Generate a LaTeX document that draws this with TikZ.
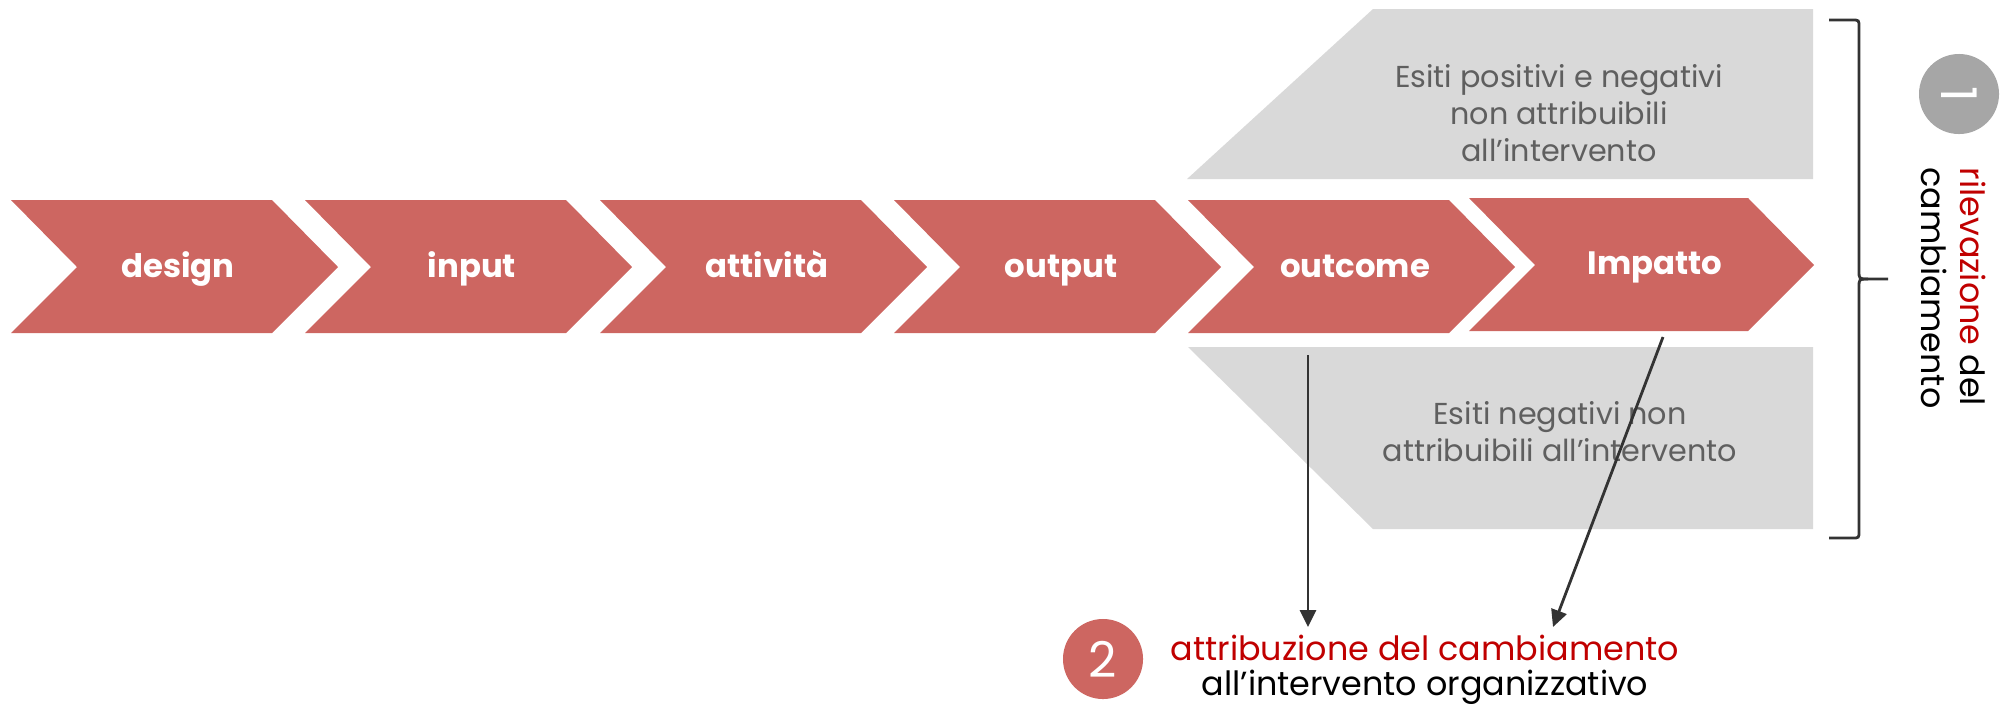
\documentclass[tikz,border=0pt]{standalone}
\usepackage{fontspec}
\setmainfont{Poppins}
\usetikzlibrary{arrows.meta}

\definecolor{fase}{RGB}{205,102,97}
\definecolor{esito}{RGB}{217,217,217}
\definecolor{testoesito}{RGB}{95,95,95}
\definecolor{rosso}{RGB}{192,0,0}
\definecolor{grigio}{RGB}{166,166,166}
\definecolor{linea}{RGB}{51,51,51}

\tikzset{
	freccia/.style={draw=linea, line width=0.8pt, -{Triangle[width=0.16cm, length=0.17cm]}},
	graffa/.style={draw=linea, line width=0.8pt},
	etichetta/.style={text=white, font=\bfseries\fontsize{9.2}{11}\selectfont, anchor=base, inner sep=0pt},
	esitotesto/.style={text=testoesito, align=center, font=\fontsize{8.6}{10.5}\selectfont},
	numero/.style={circle, minimum size=0.8cm, inner sep=0pt, text=white, font=\fontsize{14}{16}\selectfont},
	nota/.style={anchor=base, inner sep=0pt, font=\fontsize{9.5}{11}\selectfont}
}

\begin{document}
\begin{tikzpicture}[x=0.01cm, y=-0.01cm]
	\useasboundingbox (0, 0) rectangle (2003, 705);
	\fill[esito] (1187, 179) -- (1373, 9) -- (1813, 9) -- (1813, 179) -- cycle;
	\fill[esito] (1188, 347) -- (1813, 347) -- (1813, 529) -- (1373, 529) -- cycle;
	\foreach \x/\nome/\testo in {11/design/design, 305/input/input, 600/attivita/attività, 894/output/output, 1188/outcome/outcome} {
		\fill[fase] (\x, 200) -- (\x + 261, 200) -- (\x + 327, 267) -- (\x + 261, 333) -- (\x, 333) -- (\x + 66, 267) -- cycle;
		\node[etichetta] (\nome) at (\x + 167, 277) {\testo};
	}
	\fill[fase] (1469, 198) -- (1748, 198) -- (1814, 265) -- (1748, 331) -- (1469, 331) -- (1535, 265) -- cycle;
	\node[etichetta] (impatto) at (1655, 274) {Impatto};
	\node[esitotesto] (positivi) at (1559, 113) {Esiti positivi e negativi\\non attribuibili\\all’intervento};
	\node[esitotesto] (negativi) at (1560, 432) {Esiti negativi non\\attribuibili all’intervento};
	\draw[graffa] (1829, 20) -- (1852, 20) .. controls (1859, 20) .. (1859, 27) -- (1859, 271) .. controls (1859, 279) .. (1868, 279) -- (1888, 279);
	\draw[graffa] (1868, 279) .. controls (1859, 279) .. (1859, 287) -- (1859, 531) .. controls (1859, 538) .. (1852, 538) -- (1829, 538);
	\node[numero, fill=grigio, rotate=-90] (uno) at (1959, 94) {1};
	\node[nota, anchor=base west, rotate=-90] (rilevazione) at (1960, 167) {\textcolor{rosso}{rilevazione} del};
	\node[nota, anchor=base west, rotate=-90] (cambiamento) at (1921, 167) {cambiamento};
	\node[numero, fill=fase] (due) at (1103, 659) {2};
	\node[nota, text=rosso] (attribuzione) at (1425, 660) {attribuzione del cambiamento};
	\node[nota] (intervento) at (1425, 695) {all’intervento organizzativo};
	\coordinate (da outcome) at (1308, 355);
	\coordinate (a outcome) at (1308, 627);
	\coordinate (da impatto) at (1663, 337);
	\coordinate (a impatto) at (1553, 627);
	\draw[freccia] (da outcome) -- (a outcome);
	\draw[freccia] (da impatto) -- (a impatto);
\end{tikzpicture}
\end{document}
